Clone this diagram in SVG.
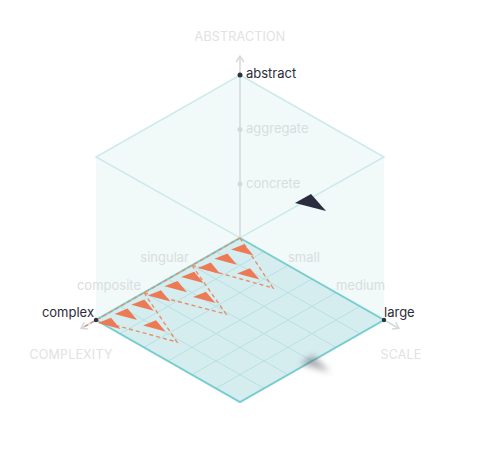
<svg xmlns="http://www.w3.org/2000/svg" width="480" height="458" viewBox="0 0 480 458">
<defs>
<style>
.title{font-family:Inter,"Liberation Sans",sans-serif;font-size:12.5px;fill:#e4e1e1;text-anchor:middle;letter-spacing:0.2px}
.tick{font-family:Inter,"Liberation Sans",sans-serif;font-size:13px;fill:#d9dddd}
.on{fill:#2b2c38}
.grid{stroke:#b8e0e3;stroke-width:1;fill:none}
.axis{stroke:#d3d9da;stroke-width:1.5;fill:none}
.dash{stroke:#e3916d;stroke-width:1.4;stroke-dasharray:4 3;fill:none}
.tri{fill:#ec7b55}
</style>
<marker id="chev" viewBox="0 0 10 10" refX="8" refY="5" markerWidth="10" markerHeight="10" markerUnits="userSpaceOnUse" orient="auto">
<path d="M2,1 L8,5 L2,9" fill="none" stroke="#d3d9da" stroke-width="1.4"/>
</marker>
<filter id="blur" x="-50%" y="-50%" width="200%" height="200%"><feGaussianBlur stdDeviation="3"/></filter>
<path id="t" d="M-1,0.5 L12,-4.8 L21.5,6.5 Z"/>
</defs>
<rect width="480" height="458" fill="#ffffff"/>

<g id="box">
<polygon points="96,157 240,75 384,157 384,320 240,402 96,320" fill="#f1f9f9"/>
<polygon points="240,75 384,157 240,238 96,157" fill="none" stroke="#cdeaeb" stroke-width="1.5"/>
</g>

<g id="floor">
<polygon points="240,238 384,320 240,402 96,320" fill="#d6edf0"/>
<path class="grid" d="M216,251.67L360,333.67M192,265.33L336,347.33M168,279L312,361M144,292.67L288,374.67M120,306.33L264,388.33M264,251.67L120,333.67M288,265.33L144,347.33M312,279L168,361M336,292.67L192,374.67M360,306.33L216,388.33"/>
<polygon points="240,238 384,320 240,402 96,320" fill="none" stroke="#78cdd0" stroke-width="2"/>
</g>

<g id="connectors">
<line class="axis" x1="240" y1="238" x2="240" y2="56" marker-end="url(#chev)"/>
<line class="axis" x1="96" y1="320" x2="81" y2="328.5" marker-end="url(#chev)"/>
<line class="axis" x1="384" y1="320" x2="399" y2="328.5" marker-end="url(#chev)"/>
<path class="dash" d="M240,238 L84,327"/>
<path class="dash" d="M240,238 L273,288 L192,265.3"/>
<path class="dash" d="M192,265.3 L226,314 L144,292.7"/>
<path class="dash" d="M144,292.7 L177,342 L96,320"/>
</g>

<g id="axis-abstraction">
<text class="title" x="240" y="41">ABSTRACTION</text>
<circle cx="240" cy="75" r="2.5" fill="#2b3440"/>
<text class="tick on" x="246" y="78">abstract</text>
<circle cx="240" cy="129.5" r="2.5" fill="#d3d9da"/>
<text class="tick" x="246" y="133">aggregate</text>
<circle cx="240" cy="184" r="2.5" fill="#d3d9da"/>
<text class="tick" x="246" y="188">concrete</text>
</g>

<g id="axis-complexity">
<text class="title" x="71" y="359">COMPLEXITY</text>
<text class="tick" x="189" y="262" text-anchor="end">singular</text>
<text class="tick" x="141" y="290" text-anchor="end">composite</text>
<circle cx="96" cy="320" r="2.2" fill="#2b3440"/>
<text class="tick on" x="94" y="317" text-anchor="end">complex</text>
</g>

<g id="axis-scale">
<text class="title" x="401" y="359">SCALE</text>
<text class="tick" x="288" y="262">small</text>
<text class="tick" x="336" y="290">medium</text>
<circle cx="384" cy="320" r="2.2" fill="#2b3440"/>
<text class="tick on" x="384" y="317">large</text>
</g>

<g id="items">
<use href="#t" class="tri" x="232" y="249"/>
<use href="#t" class="tri" x="215.4" y="258.2"/>
<use href="#t" class="tri" x="198.8" y="267.4"/>
<use href="#t" class="tri" x="182.1" y="276.6"/>
<use href="#t" class="tri" x="165.5" y="285.8"/>
<use href="#t" class="tri" x="148.9" y="295"/>
<use href="#t" class="tri" x="132.3" y="304.2"/>
<use href="#t" class="tri" x="115.6" y="313.4"/>
<use href="#t" class="tri" x="99" y="322.6"/>
<use href="#t" class="tri" x="238" y="273"/>
<use href="#t" class="tri" x="194" y="296.5"/>
<use href="#t" class="tri" x="144" y="325"/>
</g>

<g id="cursor">
<polygon points="300,364 313,355 330,372" fill="#5a5f66" opacity="0.5" filter="url(#blur)"/>
<polygon points="295,203 311,194 326,211" fill="#2b2d3e"/>
</g>
</svg>
